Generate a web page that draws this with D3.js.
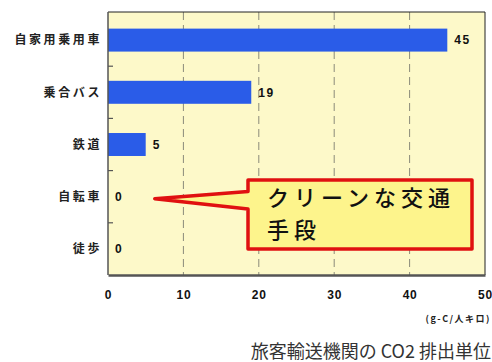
<!DOCTYPE html>
<html>
<head>
<meta charset="utf-8">
<script src="https://cdn.jsdelivr.net/npm/d3@7"></script>
<style>
  html, body { margin: 0; padding: 0; background: #ffffff; }
  svg { display: block; }
</style>
</head>
<body>
<svg id="chart" width="492" height="362"></svg>
<script>
// Passenger transport modes and their CO2 emission unit (g-C per person-km)
const categories = ["自家用乗用車", "乗合バス", "鉄道", "自転車", "徒歩"];
const values = [45, 19, 5, 0, 0];
const xTicks = [0, 10, 20, 30, 40, 50];
const unitLabel = "(g-C/人キロ)";
const title = "旅客輸送機関の CO2 排出単位";
const calloutLines = ["クリーンな交通", "手段"];
const calloutTarget = "自転車";

const svg = d3.select("#chart");
const plot = { left: 108, right: 485, top: 12, bottom: 275 };
const cjk = "'Noto Sans CJK JP', 'Noto Sans', sans-serif";
const latin = "'Liberation Sans', Arial, sans-serif";

const x = d3.scaleLinear().domain([0, 50]).range([plot.left, plot.right]);
const y = d3.scaleBand().domain(categories).range([plot.top + 2, plot.bottom]).paddingInner(0.56).paddingOuter(0.28);
const yBand = d3.scaleBand().domain(categories).range([plot.top + 2, plot.bottom]);

// plot background
svg.append("rect")
  .attr("x", plot.left).attr("y", plot.top)
  .attr("width", plot.right - plot.left).attr("height", plot.bottom - plot.top)
  .attr("fill", "#fdf9c9");

// dashed vertical gridlines
svg.append("g").selectAll("line")
  .data(xTicks.filter(t => t > 0 && t < 50))
  .join("line")
  .attr("x1", d => x(d)).attr("x2", d => x(d))
  .attr("y1", plot.top).attr("y2", plot.bottom)
  .attr("stroke", "#8a8a7a").attr("stroke-width", 1)
  .attr("stroke-dasharray", "8,5");

// bars
svg.append("g").selectAll("rect")
  .data(categories.map((c, i) => ({ c, v: values[i] })))
  .join("rect")
  .attr("x", x(0))
  .attr("y", d => y(d.c))
  .attr("width", d => x(d.v) - x(0))
  .attr("height", y.bandwidth())
  .attr("fill", "#2a5ce8");

// frame: top and right thin dark lines
svg.append("path")
  .attr("d", `M${plot.left},${plot.top}H${plot.right}V${plot.bottom}`)
  .attr("fill", "none").attr("stroke", "#222").attr("stroke-width", 1);

// y axis with inward ticks at category boundaries
const yAxisG = svg.append("g");
yAxisG.append("line")
  .attr("x1", plot.left).attr("x2", plot.left)
  .attr("y1", plot.top).attr("y2", plot.bottom)
  .attr("stroke", "#555").attr("stroke-width", 1.5);
yAxisG.selectAll("line.tick")
  .data(categories.slice(1))
  .join("line")
  .attr("class", "tick")
  .attr("x1", plot.left).attr("x2", plot.left + 5)
  .attr("y1", d => yBand(d)).attr("y2", d => yBand(d))
  .attr("stroke", "#555").attr("stroke-width", 1.2);

// category labels
svg.append("g").selectAll("text")
  .data(categories)
  .join("text")
  .attr("x", 102)
  .attr("y", d => yBand(d) + yBand.bandwidth() / 2)
  .attr("dy", "0.36em")
  .attr("text-anchor", "end")
  .attr("font-family", cjk)
  .attr("font-weight", "bold")
  .attr("font-size", 12)
  .attr("letter-spacing", 2.6)
  .attr("fill", "#222")
  .text(d => d);

// value labels
svg.append("g").selectAll("text")
  .data(categories.map((c, i) => ({ c, v: values[i] })))
  .join("text")
  .attr("x", d => x(d.v) + 7)
  .attr("y", d => yBand(d.c) + yBand.bandwidth() / 2)
  .attr("dy", "0.36em")
  .attr("font-family", latin)
  .attr("font-weight", "bold")
  .attr("font-size", 12)
  .attr("letter-spacing", 1.5)
  .attr("fill", "#111")
  .text(d => d.v);

// bottom axis
const xAxis = d3.axisBottom(x).tickValues(xTicks).tickSize(0).tickPadding(15);
const xg = svg.append("g").attr("transform", `translate(0,${plot.bottom})`).call(xAxis);
xg.select(".domain").attr("stroke", "#555").attr("stroke-width", 2.5);
xg.selectAll("text")
  .attr("font-family", latin)
  .attr("font-weight", "bold")
  .attr("font-size", 12)
  .attr("letter-spacing", 0.8)
  .attr("fill", "#111");

// unit label
svg.append("text")
  .attr("x", 491).attr("y", 322)
  .attr("text-anchor", "end")
  .attr("font-family", cjk)
  .attr("font-weight", "bold")
  .attr("font-size", 9)
  .attr("letter-spacing", 1.5)
  .attr("fill", "#222")
  .text(unitLabel);

// callout pointing at the bicycle row
const tipY = yBand(calloutTarget) + yBand.bandwidth() / 2 + 2;
const tipX = x(6.2);
const box = { x0: 248, x1: 472, y0: 180, y1: 249 };
const calloutPath = [
  [box.x0, box.y0], [box.x1, box.y0], [box.x1, box.y1], [box.x0, box.y1],
  [box.x0, 209], [tipX, tipY], [box.x0, 191.5]
];
svg.append("path")
  .attr("d", d3.line()(calloutPath) + "Z")
  .attr("fill", "#fdf48c")
  .attr("stroke", "#e01010")
  .attr("stroke-width", 3.5)
  .attr("stroke-linejoin", "round");

svg.append("g").selectAll("text")
  .data(calloutLines)
  .join("text")
  .attr("x", 267)
  .attr("y", (d, i) => 206 + i * 32)
  .attr("font-family", cjk)
  .attr("font-size", 22)
  .attr("font-weight", 500)
  .attr("letter-spacing", 5)
  .attr("fill", "#111")
  .text(d => d);

// title
svg.append("text")
  .attr("x", 491).attr("y", 358)
  .attr("text-anchor", "end")
  .attr("font-family", cjk)
  .attr("font-size", 18)
  .attr("fill", "#333")
  .text(title);
</script>
</body>
</html>
